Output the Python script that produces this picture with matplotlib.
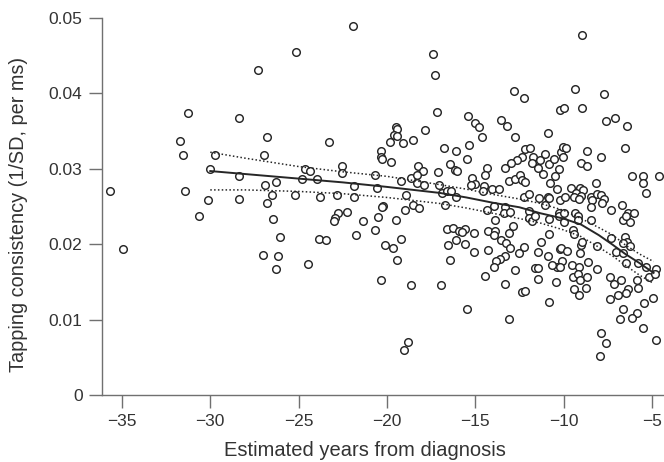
import matplotlib
matplotlib.use("Agg")
import matplotlib.pyplot as plt

plt.rcParams['font.family'] = ['Liberation Sans', 'DejaVu Sans']

years = [
    -35.65, -34.94, -31.24, -31.70, -31.55, -31.41, -30.63, -29.75, -30.0, -30.11,
    -28.40, -28.38, -28.38, -27.31, -26.77, -26.98, -26.89, -26.30, -26.53, -26.76,
    -26.47, -26.05, -27.0, -26.18, -26.30, -25.13, -25.23,
    -21.90, -17.37, -17.29, -17.16, -23.27, -19.48, -19.40, -19.59, -19.42, -19.81,
    -19.10, -18.52, -17.86, -20.34, -20.34, -20.30, -19.74, -16.77, -16.09, -16.45,
    -16.12, -16.05, -24.64, -24.38, -24.79, -23.98, -22.54, -22.52, -23.76, -22.82,
    -21.84, -21.84, -20.70, -20.58, -19.21, -18.91, -18.25, -17.97, -18.63, -18.29,
    -18.31, -17.88, -17.09, -17.07, -16.86, -16.58, -16.39, -16.09, -16.71, -20.22,
    -20.27, -18.52, -18.20, -18.98, -22.78, -22.95, -22.99, -22.24, -21.35, -20.49,
    -19.51, -20.68, -21.75, -23.85, -23.44, -20.11, -19.66, -19.21, -19.45, -24.47,
    -20.36, -18.63, -16.92, -16.62, -16.28, -15.94, -16.11, -16.56, -16.41, -18.78,
    -19.05,
    -12.78, -12.22, -10.18, -9.99, -15.41, -15.03, -14.77, -13.52, -13.22, -10.90,
    -14.60, -12.73, -15.35, -15.45, -12.16, -11.92, -12.35, -12.63, -12.99, -13.29,
    -11.73, -11.31, -11.03, -11.78, -11.44, -10.80, -10.56, -10.14, -10.05, -10.27,
    -11.18, -10.50, -10.75, -10.37, -14.35, -14.43, -15.18, -14.99, -15.22, -14.52,
    -14.56, -14.05, -13.63, -13.10, -12.73, -12.44, -12.35, -12.16, -12.22, -11.97,
    -11.40, -10.90, -10.80, -11.07, -10.18, -9.89, -13.95, -14.33, -13.29, -13.39,
    -13.01, -11.97, -10.27,
    -13.86, -11.97, -11.78, -11.63, -10.80, -10.27, -9.99, -15.60, -15.75, -15.09,
    -15.60, -14.27, -13.86, -13.95, -12.88, -13.07, -13.52, -13.24, -13.05, -12.22,
    -12.54, -11.25, -10.80, -15.05, -14.29, -13.33, -13.58, -13.82, -13.95, -11.44,
    -10.90, -10.18, -10.08, -10.37, -10.65, -11.60, -11.45, -12.73, -14.46, -11.44,
    -13.29, -10.40, -12.35, -12.16, -10.80, -15.44, -13.10,
    -9.37, -7.72, -8.93, -7.57, -7.10, -6.42, -9.84, -10.03, -8.65, -7.89,
    -6.54, -9.03, -8.69, -6.12, -5.48, -5.48, -4.59, -5.31, -9.56, -9.08,
    -8.89, -9.27, -9.40, -8.99, -9.14, -8.14, -8.42, -8.08, -7.89, -7.72,
    -7.82, -8.37, -8.42, -7.29, -6.69, -6.35, -6.01, -9.97, -9.37, -9.18,
    -8.95,
    -9.18, -8.42, -6.63, -6.25, -6.44, -10.16, -9.78, -9.46, -9.40, -8.99,
    -9.08, -8.93, -8.08, -7.33, -6.54, -6.38, -6.63, -6.25, -7.01, -6.63,
    -10.20, -9.52, -9.14, -8.61, -8.08, -6.44, -5.78, -5.31, -4.74, -5.18,
    -4.84, -7.38, -7.14, -6.72, -9.46, -9.18, -9.08, -8.65, -9.40, -9.14,
    -8.71, -5.82, -5.78, -6.35, -6.44, -6.91, -7.38, -4.93, -5.44, -5.82,
    -6.12, -6.63, -6.82, -5.50, -7.89, -7.61, -7.91, -4.74,
]

consistency = [
    0.0271, 0.0193, 0.0374, 0.0337, 0.0318, 0.0271, 0.0237, 0.0318, 0.0300, 0.0258,
    0.0368, 0.0291, 0.0260, 0.0431, 0.0342, 0.0318, 0.0278, 0.0282, 0.0265, 0.0255,
    0.0234, 0.0210, 0.0186, 0.0184, 0.0167, 0.0455, 0.0265,
    0.0490, 0.0452, 0.0424, 0.0375, 0.0335, 0.0355, 0.0353, 0.0345, 0.0344, 0.0335,
    0.0334, 0.0338, 0.0351, 0.0324, 0.0315, 0.0313, 0.0309, 0.0327, 0.0323, 0.0307,
    0.0299, 0.0297, 0.0300, 0.0297, 0.0286, 0.0286, 0.0304, 0.0295, 0.0263, 0.0265,
    0.0277, 0.0263, 0.0292, 0.0274, 0.0284, 0.0265, 0.0304, 0.0297, 0.0288, 0.0292,
    0.0281, 0.0278, 0.0296, 0.0278, 0.0268, 0.0271, 0.0270, 0.0262, 0.0252, 0.0251,
    0.0249, 0.0252, 0.0248, 0.0246, 0.0241, 0.0235, 0.0231, 0.0243, 0.0231, 0.0236,
    0.0232, 0.0219, 0.0212, 0.0207, 0.0206, 0.0199, 0.0195, 0.0207, 0.0179, 0.0174,
    0.0153, 0.0146, 0.0146, 0.0220, 0.0222, 0.0217, 0.0206, 0.0199, 0.0179, 0.0070,
    0.0060,
    0.0403, 0.0394, 0.0378, 0.0380, 0.0370, 0.0361, 0.0356, 0.0365, 0.0357, 0.0348,
    0.0342, 0.0342, 0.0331, 0.0313, 0.0326, 0.0327, 0.0316, 0.0312, 0.0308, 0.0301,
    0.0316, 0.0312, 0.0319, 0.0308, 0.0301, 0.0306, 0.0313, 0.0322, 0.0329, 0.0300,
    0.0293, 0.0290, 0.0281, 0.0273, 0.0301, 0.0292, 0.0288, 0.0280, 0.0279, 0.0277,
    0.0271, 0.0273, 0.0273, 0.0284, 0.0286, 0.0292, 0.0285, 0.0282, 0.0263, 0.0266,
    0.0261, 0.0263, 0.0261, 0.0252, 0.0258, 0.0263, 0.0251, 0.0246, 0.0250, 0.0242,
    0.0243, 0.0244, 0.0241,
    0.0232, 0.0235, 0.0231, 0.0237, 0.0234, 0.0237, 0.0230, 0.0220, 0.0216, 0.0215,
    0.0200, 0.0218, 0.0218, 0.0212, 0.0224, 0.0215, 0.0206, 0.0201, 0.0195, 0.0196,
    0.0188, 0.0203, 0.0213, 0.0189, 0.0192, 0.0185, 0.0181, 0.0178, 0.0170, 0.0189,
    0.0185, 0.0193, 0.0178, 0.0170, 0.0173, 0.0169, 0.0169, 0.0166, 0.0158, 0.0154,
    0.0147, 0.0150, 0.0136, 0.0138, 0.0123, 0.0114, 0.0101,
    0.0406, 0.0399, 0.0380, 0.0364, 0.0367, 0.0357, 0.0327, 0.0315, 0.0324, 0.0316,
    0.0327, 0.0308, 0.0304, 0.0291, 0.0291, 0.0281, 0.0291, 0.0268, 0.0275, 0.0275,
    0.0272, 0.0268, 0.0263, 0.0264, 0.0260, 0.0281, 0.0263, 0.0267, 0.0265, 0.0260,
    0.0255, 0.0259, 0.0249, 0.0246, 0.0252, 0.0241, 0.0242, 0.0241, 0.0241, 0.0237,
    0.0477,
    0.0232, 0.0232, 0.0232, 0.0230, 0.0238, 0.0195, 0.0191, 0.0219, 0.0213, 0.0199,
    0.0188, 0.0203, 0.0198, 0.0208, 0.0209, 0.0203, 0.0201, 0.0198, 0.0190, 0.0188,
    0.0170, 0.0173, 0.0170, 0.0176, 0.0167, 0.0175, 0.0175, 0.0170, 0.0167, 0.0156,
    0.0160, 0.0157, 0.0147, 0.0153, 0.0157, 0.0160, 0.0152, 0.0157, 0.0141, 0.0132,
    0.0142, 0.0152, 0.0142, 0.0141, 0.0135, 0.0132, 0.0127, 0.0128, 0.0122, 0.0109,
    0.0102, 0.0114, 0.0101, 0.0089, 0.0082, 0.0069, 0.0052, 0.0073,
]

fit_x = [-30, -28, -25, -22.5, -20, -17, -15.5, -14, -12.5, -11.3, -10, -9, -8, -7.2, -6.5, -5.7, -4.9]
fit_mid = [0.0297, 0.0293, 0.0287, 0.0282, 0.0276, 0.0268, 0.0262, 0.0255, 0.0249, 0.0241, 0.0234,
           0.0226, 0.0212, 0.0199, 0.0187, 0.0175, 0.0162]
fit_hi = [0.0322, 0.0314, 0.0303, 0.0296, 0.0290, 0.0279, 0.0273, 0.0266, 0.0260, 0.0254, 0.0245,
          0.0234, 0.0222, 0.0212, 0.0199, 0.0187, 0.0177]
fit_lo = [0.0272, 0.0272, 0.0270, 0.0267, 0.0262, 0.0254, 0.0248, 0.0241, 0.0234, 0.0228, 0.0219,
          0.0210, 0.0196, 0.0184, 0.0172, 0.0159, 0.0148]

x_ticks = [-35, -30, -25, -20, -15, -10, -5]
y_ticks = [0, 0.01, 0.02, 0.03, 0.04, 0.05]
y_tick_labels = ['0', '0.01', '0.02', '0.03', '0.04', '0.05']

fig = plt.figure(figsize=(6.64, 4.62), dpi=100)
ax = fig.add_axes([102/664, 1 - 395/462, 1 - 102/664, (395 - 18)/462])

ax.scatter(years, consistency, s=30, facecolors='white', edgecolors='#262626',
           linewidths=1.05, zorder=3)
ax.plot(fit_x, fit_mid, color='#262626', lw=1.4, zorder=4)
ax.plot(fit_x, fit_hi, color='#262626', lw=1.1, ls=(0, (1, 1.5)), zorder=4)
ax.plot(fit_x, fit_lo, color='#262626', lw=1.1, ls=(0, (1, 1.5)), zorder=4)

ax.set_xlim(-36.13, -4.31)
ax.set_ylim(0, 0.05)
ax.set_xticks(x_ticks)
ax.set_yticks(y_ticks)
ax.set_yticklabels(y_tick_labels)

for side in ['top', 'right']:
    ax.spines[side].set_visible(False)
for side in ['left', 'bottom']:
    ax.spines[side].set_color('#707070')
    ax.spines[side].set_linewidth(1.0)
ax.tick_params(axis='both', direction='out', length=9.5, width=1.0, color='#707070',
               labelsize=12.5, labelcolor='#333333', pad=4.5)

ax.set_xlabel('Estimated years from diagnosis', fontsize=14.5, color='#333333', labelpad=5)
ax.xaxis.set_label_coords(0.468, -0.122)
ax.set_ylabel('Tapping consistency (1/SD, per ms)', fontsize=14.3, color='#333333')
ax.yaxis.set_label_coords(-0.132, 0.48)

fig.savefig('out.png', dpi=100)
